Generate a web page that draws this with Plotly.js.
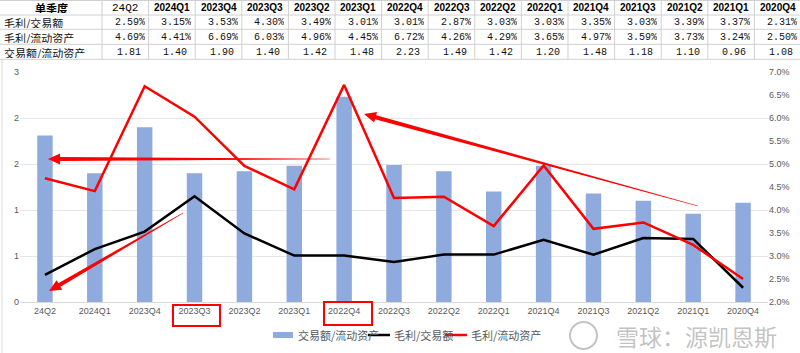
<!DOCTYPE html>
<html>
<head>
<meta charset="utf-8">
<script src="https://cdn.plot.ly/plotly-3.0.1.min.js"></script>
<style>html,body{margin:0;padding:0;background:#fff;}#chart{width:800px;height:353px;}</style>
</head>
<body>
<div id="chart"></div>
<script>
// ---- data ----
const categories = ['24Q2','2024Q1','2023Q4','2023Q3','2023Q2','2023Q1','2022Q4','2022Q3','2022Q2','2022Q1','2021Q4','2021Q3','2021Q2','2021Q1','2020Q4'];
const grossOverTurnover = [2.59,3.15,3.53,4.30,3.49,3.01,3.01,2.87,3.03,3.03,3.35,3.03,3.39,3.37,2.31];   // 毛利/交易额 (%)
const grossOverAssets   = [4.69,4.41,6.69,6.03,4.96,4.45,6.72,4.26,4.29,3.65,4.97,3.59,3.73,3.24,2.50];   // 毛利/流动资产 (%)
const turnoverOverAssets= [1.81,1.40,1.90,1.40,1.42,1.48,2.23,1.49,1.42,1.20,1.48,1.18,1.10,0.96,1.08];   // 交易额/流动资产
const rowLabels = ['毛利/交易额','毛利/流动资产','交易额/流动资产'];
const tableHeader = '单季度';
const leftTickVals = [0,0.5,1,1.5,2,2.5];
const leftTickText = ['0','1','1','2','2','3'];

// ---- geometry helpers (pixel -> paper) ----
const PL=20, PR=768, PT=72, PB=302;
const fx = p => (p-PL)/(PR-PL);
const fy = p => (PB-p)/(PB-PT);

const shapes = [];
const annotations = [];

// ---- table on top ----
const colStart = 102, colW = 46.6;
const rowLines = [15, 29.3, 44.3, 59.3];
const rowCenters = [7.5, 22.5, 37.3, 52.3];
rowLines.forEach(y => shapes.push({type:'line', xref:'paper', yref:'paper', x0:fx(0), x1:fx(800), y0:fy(y), y1:fy(y), line:{color:'#d0d0d0', width:1}}));
shapes.push({type:'line', xref:'paper', yref:'paper', x0:fx(0), x1:fx(800), y0:fy(0.5), y1:fy(0.5), line:{color:'#d0d0d0', width:1}});
for (let i=0;i<=15;i++){
  const x = colStart + colW*i;
  shapes.push({type:'line', xref:'paper', yref:'paper', x0:fx(x), x1:fx(x), y0:fy(0), y1:fy(59.3), line:{color:'#d0d0d0', width:1}});
}
const cellH = 11;
annotations.push({xref:'paper', yref:'paper', x:fx(51), y:fy(rowCenters[0]), text:'<b>'+tableHeader+'</b>', showarrow:false, xanchor:'center', yanchor:'middle', height:cellH, borderpad:0, font:{family:'Noto Sans CJK SC', size:11, color:'#000'}});
rowLabels.forEach((t,r) => annotations.push({xref:'paper', yref:'paper', x:fx(3), y:fy(rowCenters[r+1]), text:t, showarrow:false, xanchor:'left', yanchor:'middle', height:cellH, borderpad:0, font:{family:'Noto Sans CJK SC', size:11, color:'#111'}}));
const rows = [grossOverTurnover.map(v=>v.toFixed(2)+'%'), grossOverAssets.map(v=>v.toFixed(2)+'%'), turnoverOverAssets.map(v=>v.toFixed(2))];
categories.forEach((c,i) => {
  const x0 = colStart + colW*i;
  const hdr = i===0 ? c : '<b>'+c+'</b>';
  annotations.push({xref:'paper', yref:'paper', x:fx(x0+colW/2), y:fy(rowCenters[0]), text:hdr, showarrow:false, xanchor:'center', yanchor:'middle', height:cellH, borderpad:0,
    font:{family: i===0 ? 'Liberation Mono' : 'Liberation Sans', size: i===0 ? 11 : 10, color:'#000'}});
  rows.forEach((rv,r) => {
    annotations.push({xref:'paper', yref:'paper', x:fx(x0+colW-(r===2?7:3)), y:fy(rowCenters[r+1]), text:rv[i], showarrow:false, xanchor:'right', yanchor:'middle', height:cellH, borderpad:0,
      font:{family:'Liberation Mono', size:10, color:'#111'}});
  });
});

// ---- chart outer border hint ----
shapes.push({type:'line', xref:'paper', yref:'paper', x0:fx(2), x1:fx(2), y0:fy(60), y1:fy(353), line:{color:'#d9d9d9', width:1}});

// ---- tapered arrows ----
function arrowPath(tx,ty,hx,hy,w0,w1,L,hw){
  const dx=hx-tx, dy=hy-ty, len=Math.hypot(dx,dy);
  const ux=dx/len, uy=dy/len, nx=-uy, ny=ux;
  const Nx=hx-ux*L, Ny=hy-uy*L;
  const pts=[
    [tx+nx*w0/2, ty+ny*w0/2],
    [Nx+nx*w1/2, Ny+ny*w1/2],
    [Nx+nx*hw, Ny+ny*hw],
    [hx, hy],
    [Nx-nx*hw, Ny-ny*hw],
    [Nx-nx*w1/2, Ny-ny*w1/2],
    [tx-nx*w0/2, ty-ny*w0/2]
  ];
  return 'M'+pts.map(p=>fx(p[0]).toFixed(5)+','+fy(p[1]).toFixed(5)).join(' L')+' Z';
}
[[330,159,48,159],[183,213,49,291],[698,206,364,114]].forEach(a=>{
  shapes.push({type:'path', xref:'paper', yref:'paper', path:arrowPath(a[0],a[1],a[2],a[3],0.6,4.2,12,5.5), fillcolor:'#ff0000', line:{width:0}});
});

// ---- red boxes around labels ----
shapes.push({type:'rect', xref:'paper', yref:'paper', x0:fx(173), x1:fx(220), y0:fy(305), y1:fy(326), line:{color:'#ff0000', width:2}});
shapes.push({type:'rect', xref:'paper', yref:'paper', x0:fx(324), x1:fx(372), y0:fy(302), y1:fy(325), line:{color:'#ff0000', width:2}});

// ---- manual legend ----
const legY = 335;
shapes.push({type:'rect', xref:'paper', yref:'paper', x0:fx(273), x1:fx(293), y0:fy(332), y1:fy(338), fillcolor:'#8faadc', line:{width:0}});
annotations.push({xref:'paper', yref:'paper', x:fx(296), y:fy(legY), text:'交易额/流动资产', showarrow:false, xanchor:'left', yanchor:'middle', font:{family:'Noto Sans CJK SC', size:11, color:'#595959'}});
shapes.push({type:'line', xref:'paper', yref:'paper', x0:fx(368), x1:fx(390), y0:fy(legY), y1:fy(legY), line:{color:'#000', width:2.5}});
annotations.push({xref:'paper', yref:'paper', x:fx(392), y:fy(legY), text:'毛利/交易额', showarrow:false, xanchor:'left', yanchor:'middle', font:{family:'Noto Sans CJK SC', size:11, color:'#595959'}});
shapes.push({type:'line', xref:'paper', yref:'paper', x0:fx(445), x1:fx(467), y0:fy(legY), y1:fy(legY), line:{color:'#ff0000', width:2.5}});
annotations.push({xref:'paper', yref:'paper', x:fx(469), y:fy(legY), text:'毛利/流动资产', showarrow:false, xanchor:'left', yanchor:'middle', font:{family:'Noto Sans CJK SC', size:11, color:'#595959'}});

// ---- watermark ----
shapes.push({type:'circle', xref:'paper', yref:'paper', x0:fx(570), x1:fx(597), y0:fy(322), y1:fy(349), line:{color:'rgba(170,170,170,0.7)', width:2}});
annotations.push({xref:'paper', yref:'paper', x:fx(696), y:fy(336), text:'雪球：源凯恩斯', showarrow:false, xanchor:'center', yanchor:'middle', font:{family:'Noto Sans CJK SC', size:23, color:'rgba(175,175,175,0.75)'}});

// ---- traces ----
const traces = [
  {type:'bar', x:categories, y:turnoverOverAssets, name:'交易额/流动资产', marker:{color:'#8faadc'}, yaxis:'y', hoverinfo:'skip'},
  {type:'scatter', mode:'lines', x:categories, y:grossOverTurnover, name:'毛利/交易额', line:{color:'#000000', width:2.5}, yaxis:'y2', hoverinfo:'skip'},
  {type:'scatter', mode:'lines', x:categories, y:grossOverAssets, name:'毛利/流动资产', line:{color:'#ff0000', width:2.5}, yaxis:'y2', hoverinfo:'skip'}
];

const layout = {
  width:800, height:353,
  margin:{l:PL, r:800-PR, t:PT, b:353-PB, pad:0},
  paper_bgcolor:'#ffffff', plot_bgcolor:'#ffffff',
  showlegend:false,
  bargap:0.69,
  xaxis:{type:'category', showgrid:false, showline:true, linecolor:'#d9d9d9', linewidth:1, ticks:'', tickfont:{family:'Liberation Sans', size:9, color:'#595959'}, fixedrange:true},
  yaxis:{range:[0,2.5], tickvals:leftTickVals, ticktext:leftTickText, showgrid:true, gridcolor:'#e6e6e6', gridwidth:1, zeroline:false, showline:false, ticks:'', tickfont:{family:'Liberation Sans', size:9, color:'#595959'}, fixedrange:true},
  yaxis2:{overlaying:'y', side:'right', range:[2,7], dtick:0.5, tickformat:'.1f', ticksuffix:'%', showgrid:false, zeroline:false, showline:false, ticks:'', tickfont:{family:'Liberation Sans', size:9, color:'#595959'}, fixedrange:true},
  shapes:shapes,
  annotations:annotations
};

Plotly.newPlot('chart', traces, layout, {staticPlot:true, displayModeBar:false});
</script>
</body>
</html>
